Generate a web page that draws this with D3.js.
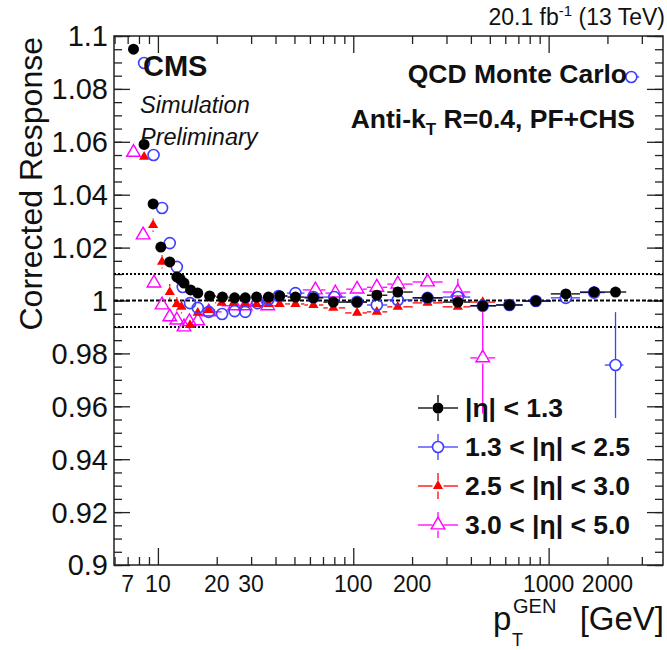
<!DOCTYPE html>
<html>
<head>
<meta charset="utf-8">
<script src="https://cdnjs.cloudflare.com/ajax/libs/d3/7.8.5/d3.min.js"></script>
<style>
  body { margin: 0; background: #fff; }
  text { font-family: "Liberation Sans", Arial, Helvetica, sans-serif; }
</style>
</head>
<body>
<div class="chart"></div>
<script>
var svgWidth = 667;
var svgHeight = 650;

var margin = { top: 36, right: 4, bottom: 85, left: 114 };
var width = svgWidth - margin.left - margin.right;
var height = svgHeight - margin.top - margin.bottom;

// data: pT (GeV), response, vertical error
var etaLabels = ["|\u03b7| < 1.3", "1.3 < |\u03b7| < 2.5", "2.5 < |\u03b7| < 3.0", "3.0 < |\u03b7| < 5.0"];

var ptBarrel = [7.5, 8.5, 9.45, 10.35, 11.5, 12.5, 13.0, 13.6, 14.7, 16, 18.4, 21.4, 24.7, 28, 32, 36.8, 42, 50.6, 62.5, 79, 104.6, 132, 169, 240, 343, 460, 630, 860, 1225, 1710, 2200];
var respBarrel = [1.095, 1.059, 1.0365, 1.0202, 1.0146, 1.0089, 1.0081, 1.0066, 1.004, 1.0028, 1.0017, 1.0013, 1.001, 1.001, 1.0013, 1.0013, 1.0017, 1.0013, 1.001, 0.9994, 0.9994, 1.002, 1.0032, 1.001, 0.9994, 0.998, 0.9983, 0.9998, 1.0025, 1.0032, 1.0032];
var errBarrel = [0.001, 0.001, 0.001, 0.001, 0.001, 0.001, 0.001, 0.001, 0.0005, 0.0005, 0.0005, 0.0005, 0.0005, 0.0005, 0.0005, 0.0005, 0.0005, 0.0005, 0.0005, 0.0005, 0.0005, 0.0005, 0.0005, 0.0005, 0.0005, 0.0005, 0.0005, 0.0005, 0.0008, 0.001, 0.001];

var ptEndcap = [8.5, 9.5, 10.5, 11.5, 12.5, 13.4, 14.6, 16, 18.2, 21.3, 24.7, 28, 32.3, 36.8, 41.5, 50.6, 62.5, 80, 104.6, 132, 169, 240, 343, 460, 630, 860, 1225, 1710, 2200, 2650];
var respEndcap = [1.0898, 1.055, 1.035, 1.0217, 1.0127, 1.0051, 0.999, 0.9972, 0.9957, 0.9949, 0.996, 0.9957, 0.999, 1.0005, 1.0017, 1.0028, 1.0013, 1.0013, 0.9995, 0.9983, 1.0002, 1.001, 1.0013, 0.998, 0.9983, 0.9998, 1.001, 1.003, 0.9756, 1.0845];
var errEndcap = [0.001, 0.001, 0.001, 0.001, 0.001, 0.001, 0.001, 0.0008, 0.0008, 0.0008, 0.0008, 0.0008, 0.0008, 0.0008, 0.0008, 0.0008, 0.0008, 0.0008, 0.0008, 0.0008, 0.0008, 0.0008, 0.001, 0.001, 0.001, 0.001, 0.001, 0.0025, 0.02, 0.001];

var ptTrans = [8.5, 9.45, 10.5, 11.5, 12.5, 13.2, 14.6, 16, 18.2, 21.2, 24.4, 28, 32, 36.8, 42, 50.6, 62.5, 79, 104.6, 132, 169, 240, 343, 460];
var respTrans = [1.0543, 1.0285, 1.0146, 1.0032, 0.9987, 0.9976, 0.9907, 0.9953, 0.9964, 0.9991, 0.999, 0.9987, 0.9987, 0.9987, 0.9987, 0.9987, 0.9983, 0.9972, 0.9953, 0.9957, 0.9976, 0.9991, 0.9976, 0.9994];
var errTrans = [0.002, 0.0025, 0.0025, 0.003, 0.0025, 0.0025, 0.0015, 0.001, 0.001, 0.001, 0.001, 0.001, 0.001, 0.001, 0.001, 0.001, 0.001, 0.001, 0.001, 0.001, 0.001, 0.001, 0.001, 0.001];

var ptForward = [7.5, 8.4, 9.55, 10.5, 11.5, 12.5, 13.6, 14.5, 16, 18.2, 24.7, 28, 32, 36.5, 64, 81, 104.6, 132, 169, 240, 343, 460];
var respForward = [1.056, 1.0248, 1.0066, 0.9983, 0.9938, 0.9926, 0.99, 0.992, 0.9923, 0.9957, 0.998, 0.998, 0.9995, 0.998, 1.004, 1.0028, 1.0043, 1.005, 1.0062, 1.007, 1.0032, 0.9783];
var errForward = [0.001, 0.001, 0.001, 0.001, 0.001, 0.001, 0.001, 0.001, 0.001, 0.001, 0.001, 0.001, 0.001, 0.001, 0.001, 0.001, 0.001, 0.001, 0.001, 0.001, 0.005, 0.021];

var seriesColors = ["#000000", "#3f3fff", "#ff0000", "#ff00ff"];
var seriesMarkers = ["dot", "circle", "triUp", "triOpen"];

var xLabelTicks = [7, 10, 20, 30, 100, 200, 1000, 2000];
var xDecadeTicks = [10, 100, 1000];
var xMinorTicks = [6, 7, 8, 9, 20, 30, 40, 50, 60, 70, 80, 90, 200, 300, 400, 500, 600, 700, 800, 900, 2000, 3000];
var yMajorTicks = [0.9, 0.92, 0.94, 0.96, 0.98, 1, 1.02, 1.04, 1.06, 1.08, 1.1];
var refLines = [0.99, 1.0, 1.01];

var svg = d3
  .select(".chart")
  .append("svg")
  .attr("width", svgWidth)
  .attr("height", svgHeight);

var chartGroup = svg.append("g")
  .attr("transform", `translate(${margin.left}, ${margin.top})`);

var xScale = d3.scaleLog().domain([5.96, 3850]).range([0, width]);
var yScale = d3.scaleLinear().domain([0.9, 1.1]).range([height, 0]);

// y minor ticks every 0.005
var yMinorTicks = d3.range(0, 41).map(i => +(0.9 + i * 0.005).toFixed(3));

// ---- axes (ROOT style: ticks inside, mirrored on top/right)
function tickGroup(axisFn, values, size, transform) {
  var g = chartGroup.append("g")
    .attr("transform", transform)
    .call(axisFn.tickValues(values).tickSize(size).tickFormat(""));
  g.select(".domain").remove();
  g.selectAll("line").attr("stroke", "#222").attr("stroke-width", 1.3);
  return g;
}

tickGroup(d3.axisTop(xScale), xMinorTicks, 8, `translate(0, ${height})`);
tickGroup(d3.axisTop(xScale), xDecadeTicks, 17, `translate(0, ${height})`);
tickGroup(d3.axisBottom(xScale), xMinorTicks, 8, "translate(0, 0)");
tickGroup(d3.axisBottom(xScale), xDecadeTicks, 17, "translate(0, 0)");
tickGroup(d3.axisRight(yScale), yMinorTicks, 8, "translate(0, 0)");
tickGroup(d3.axisRight(yScale), yMajorTicks, 16, "translate(0, 0)");
tickGroup(d3.axisLeft(yScale), yMinorTicks, 8, `translate(${width}, 0)`);
tickGroup(d3.axisLeft(yScale), yMajorTicks, 16, `translate(${width}, 0)`);

// frame
chartGroup.append("rect")
  .attr("width", width)
  .attr("height", height)
  .attr("fill", "none")
  .attr("stroke", "#222")
  .attr("stroke-width", 1.5);

// tick labels
chartGroup.selectAll(".xlab")
  .data(xLabelTicks)
  .enter().append("text")
  .attr("class", "xlab")
  .attr("x", d => xScale(d))
  .attr("y", height + 27)
  .attr("text-anchor", "middle")
  .attr("font-size", "23px")
  .attr("fill", "#111")
  .text(d => d);

chartGroup.selectAll(".ylab")
  .data(yMajorTicks)
  .enter().append("text")
  .attr("class", "ylab")
  .attr("x", -6)
  .attr("y", d => yScale(d))
  .attr("dy", "0.36em")
  .attr("text-anchor", "end")
  .attr("font-size", "29px")
  .attr("fill", "#111")
  .text(d => d3.format("")(+d.toFixed(2)));

// reference lines
chartGroup.selectAll(".ref")
  .data(refLines)
  .enter().append("line")
  .attr("x1", 0)
  .attr("x2", width)
  .attr("y1", d => yScale(d))
  .attr("y2", d => yScale(d))
  .attr("stroke", "#000")
  .attr("stroke-width", d => d === 1 ? 2.2 : 2)
  .attr("stroke-dasharray", d => d === 1 ? "4,2" : "2,2");

// ---- markers
var markerRadius = 5.5;
function drawMarker(g, type, color, x, y) {
  if (type === "dot") {
    g.append("circle").attr("cx", x).attr("cy", y).attr("r", markerRadius).attr("fill", color);
  } else if (type === "circle") {
    g.append("circle").attr("cx", x).attr("cy", y).attr("r", markerRadius)
      .attr("fill", "none").attr("stroke", color).attr("stroke-width", 1.6);
  } else if (type === "triUp") {
    g.append("path").attr("d", d3.symbol(d3.symbolTriangle, 45)()).attr("transform", `translate(${x},${y})`)
      .attr("fill", color);
  } else {
    g.append("path").attr("d", d3.symbol(d3.symbolTriangle, 80)()).attr("transform", `translate(${x},${y})`)
      .attr("fill", "none").attr("stroke", color).attr("stroke-width", 1.4);
  }
}

// error bar segment that stops at the marker edge
function barPiece(g, color, x1, y1, x2, y2) {
  if (Math.abs(x2 - x1) + Math.abs(y2 - y1) < 0.5) return;
  g.append("line").attr("x1", x1).attr("x2", x2).attr("y1", y1).attr("y2", y2)
    .attr("stroke", color).attr("stroke-width", 1.3);
}

var allSeries = [
  { pt: ptForward, resp: respForward, err: errForward, idx: 3 },
  { pt: ptTrans, resp: respTrans, err: errTrans, idx: 2 },
  { pt: ptEndcap, resp: respEndcap, err: errEndcap, idx: 1 },
  { pt: ptBarrel, resp: respBarrel, err: errBarrel, idx: 0 }
];

allSeries.forEach(function (s) {
  var color = seriesColors[s.idx];
  var g = chartGroup.append("g").attr("class", "series");
  s.pt.forEach(function (p, i) {
    // bin edges: geometric midpoint between neighbouring points
    var lo = i > 0 ? Math.sqrt(p * s.pt[i - 1]) : p / Math.sqrt(s.pt[i + 1] / p);
    var hi = i < s.pt.length - 1 ? Math.sqrt(p * s.pt[i + 1]) : p * Math.sqrt(p / s.pt[i - 1]);
    if (hi / p > 1.2) hi = p * 1.16;
    if (p / lo > 1.2) lo = p / 1.16;
    var x = xScale(p), y = yScale(s.resp[i]);
    var r = markerRadius;
    var xl = xScale(lo), xh = xScale(hi);
    var yt = yScale(s.resp[i] + s.err[i]), yb = yScale(s.resp[i] - s.err[i]);
    if (xl < x - r) barPiece(g, color, xl, y, x - r, y);
    if (xh > x + r) barPiece(g, color, x + r, y, xh, y);
    if (yt < y - r) barPiece(g, color, x, yt, x, y - r);
    if (yb > y + r) barPiece(g, color, x, y + r, x, yb);
    drawMarker(g, seriesMarkers[s.idx], color, x, y);
  });
});

// ---- legend
var legendGroup = svg.append("g");
etaLabels.forEach(function (lab, i) {
  var ly = 408 + i * 39;
  var color = seriesColors[i];
  barPiece(legendGroup, color, 418, ly, 438 - markerRadius, ly);
  barPiece(legendGroup, color, 438 + markerRadius, ly, 458, ly);
  barPiece(legendGroup, color, 438, ly - 13, 438, ly - markerRadius);
  barPiece(legendGroup, color, 438, ly + markerRadius, 438, ly + 13);
  drawMarker(legendGroup, seriesMarkers[i], color, 438, ly);
  legendGroup.append("text")
    .attr("x", 465)
    .attr("y", ly + 9)
    .attr("font-size", "26.5px")
    .attr("font-weight", "bold")
    .attr("fill", "#111")
    .text(lab);
});

// ---- texts
var lumi = svg.append("text")
  .attr("x", 665)
  .attr("y", 25)
  .attr("text-anchor", "end")
  .attr("font-size", "23px")
  .attr("fill", "#111");
lumi.append("tspan").text("20.1 fb");
lumi.append("tspan").attr("dy", -9).attr("font-size", "15px").text("-1");
lumi.append("tspan").attr("dy", 9).text(" (13 TeV)");

svg.append("text")
  .attr("x", 143).attr("y", 76)
  .attr("font-size", "29px").attr("font-weight", "bold").attr("fill", "#111")
  .text("CMS");
svg.append("text")
  .attr("x", 140).attr("y", 113)
  .attr("font-size", "23.5px").attr("font-style", "italic").attr("fill", "#111")
  .text("Simulation");
svg.append("text")
  .attr("x", 140).attr("y", 145)
  .attr("font-size", "23.5px").attr("font-style", "italic").attr("fill", "#111")
  .text("Preliminary");

svg.append("text")
  .attr("x", 627).attr("y", 83)
  .attr("text-anchor", "end")
  .attr("font-size", "26.5px").attr("font-weight", "bold").attr("fill", "#111")
  .text("QCD Monte Carlo");

var algo = svg.append("text")
  .attr("x", 635).attr("y", 128)
  .attr("text-anchor", "end")
  .attr("font-size", "26.5px").attr("font-weight", "bold").attr("fill", "#111");
algo.append("tspan").text("Anti-k");
algo.append("tspan").attr("dy", 7).attr("font-size", "17px").text("T");
algo.append("tspan").attr("dy", -7).text(" R=0.4, PF+CHS");

// axis titles
svg.append("text")
  .attr("transform", "translate(42, 37) rotate(-90)")
  .attr("text-anchor", "end")
  .attr("font-size", "32px")
  .attr("fill", "#111")
  .text("Corrected Response");

svg.append("text").attr("x", 493).attr("y", 630).attr("font-size", "33px").attr("fill", "#111").text("p");
svg.append("text").attr("x", 513).attr("y", 613).attr("font-size", "20px").attr("fill", "#111").text("GEN");
svg.append("text").attr("x", 512).attr("y", 646).attr("font-size", "18px").attr("fill", "#111").text("T");
svg.append("text").attr("x", 664).attr("y", 630).attr("text-anchor", "end").attr("font-size", "33px").attr("fill", "#111").text("[GeV]");
</script>
</body>
</html>
